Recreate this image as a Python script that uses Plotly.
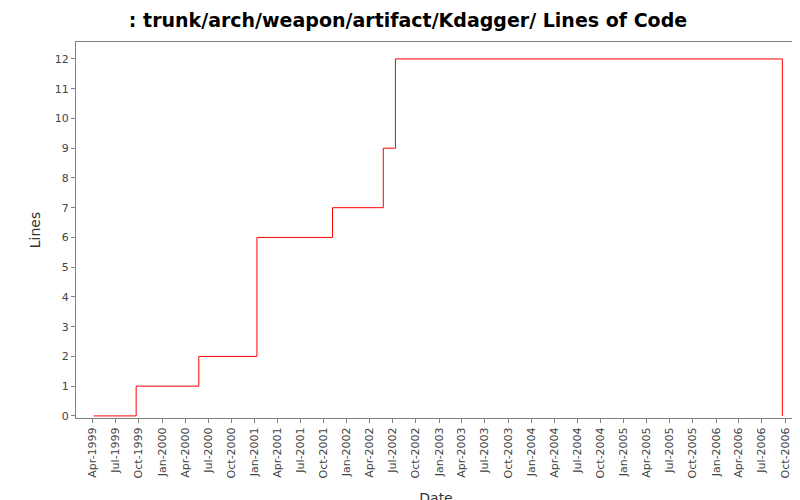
import plotly.graph_objects as go

dates = ["1999-04-05", "1999-09-20", "2000-05-25", "2001-01-10", "2001-11-05",
         "2002-05-25", "2002-07-12", "2006-09-20"]
lines = [0, 1, 2, 6, 7, 9, 12, 0]
tick_dates = []
for y in range(1999, 2007):
    for m in (1, 4, 7, 10):
        d = f"{y}-{m:02d}-01"
        if "1999-04-01" <= d <= "2006-10-01":
            tick_dates.append(d)
mon = {1: "Jan", 4: "Apr", 7: "Jul", 10: "Oct"}
tick_text = [f"{mon[int(d[5:7])]}-{d[:4]}" for d in tick_dates]

fig = go.Figure(go.Scatter(x=dates, y=lines, mode="lines", line_shape="hv",
                           line=dict(color="#ff0000", width=1)))
fig.update_layout(
    width=800, height=500, paper_bgcolor="white", plot_bgcolor="white",
    margin=dict(l=68, r=12, t=34, b=90, autoexpand=False),
    title=dict(text=": trunk/arch/weapon/artifact/Kdagger/ Lines of Code", x=0.5, y=0.975,
               yanchor="middle", automargin=False,
               font=dict(family="DejaVu Sans", size=19, color="black", weight="bold")),
    showlegend=False,
    font=dict(family="DejaVu Sans", size=11, color="#444"),
)
fig.update_xaxes(type="date", range=["1999-01-25", "2006-11-13"], tickvals=tick_dates,
                 ticktext=tick_text, tickangle=-90, showgrid=False, ticks="outside",
                 ticklen=4, tickcolor="gray", showline=True, linecolor="gray", mirror=True,
                 automargin=False,
                 title=dict(text="Date", font=dict(size=14, color="#333")))
fig.update_yaxes(range=[-0.07, 12.57], dtick=1, showgrid=False, ticks="outside",
                 ticklen=4, tickcolor="gray", showline=True, linecolor="gray", mirror=True,
                 zeroline=False, automargin=False,
                 title=dict(text="Lines", font=dict(size=14, color="#333"), standoff=10))
fig.write_html("out.html")
